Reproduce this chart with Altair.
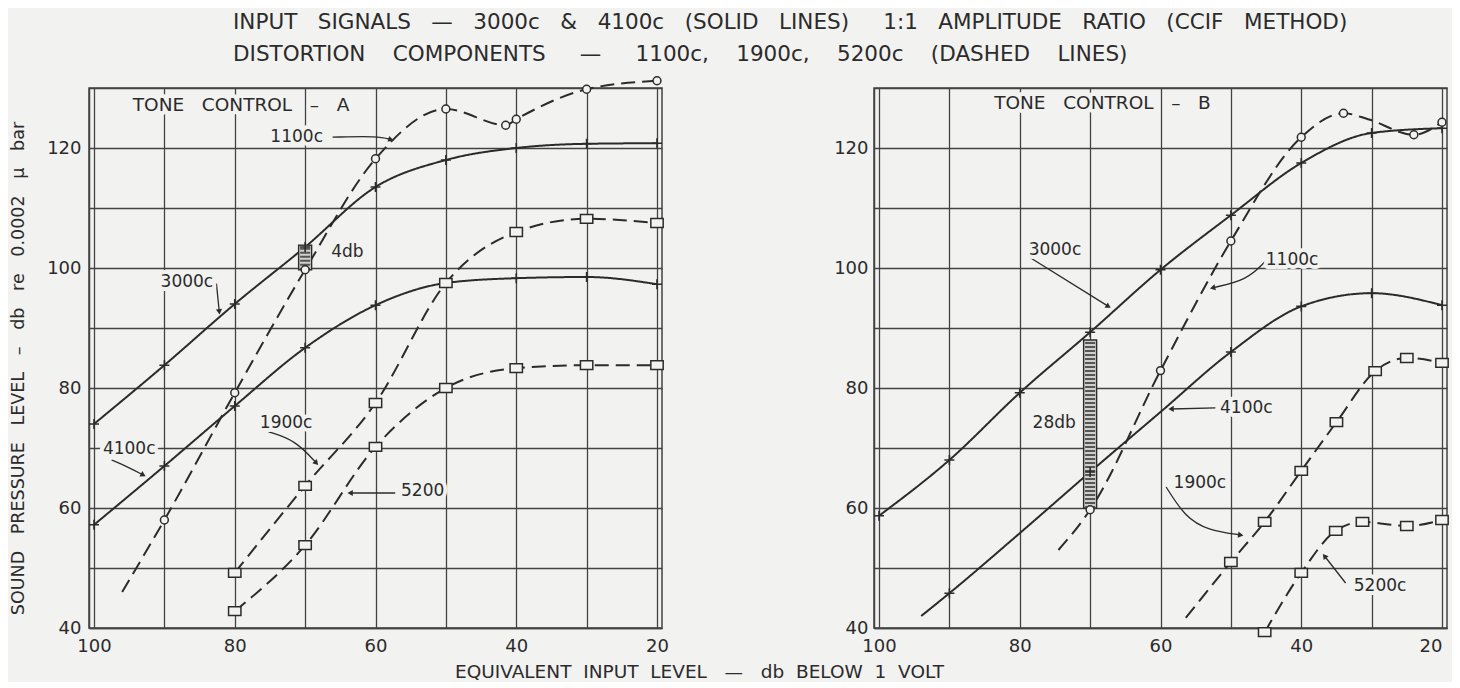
import math
import altair as alt
import pandas as pd

BG = "#f2f2f0"
INK = "#2b2b2b"
GRID = "#434343"
FONT = "DejaVu Sans"
NB = "\u00a0"

# ---------------- data ----------------
# Tone control A
A_X = [100, 90, 80, 70, 60, 50, 40, 30, 20]
A_3000 = [74.0, 83.8, 94.0, 103.5, 113.5, 118.0, 120.0, 120.7, 120.8]
A_4100 = [57.2, 67.0, 77.0, 86.7, 93.8, 97.5, 98.3, 98.5, 97.3]
A_1100_X = [96, 90, 80, 70, 60, 50, 41.5, 40, 30, 20]
A_1100 = [46.0, 58.0, 79.2, 99.7, 118.2, 126.5, 123.8, 124.8, 129.8, 131.2]
A_1100_MARK = [0, 1, 1, 1, 1, 1, 1, 1, 1, 1]
A_1900_X = [80, 70, 60, 50, 40, 30, 20]
A_1900 = [49.2, 63.7, 77.5, 97.5, 106.0, 108.2, 107.5]
A_5200_X = [80, 70, 60, 50, 40, 30, 20]
A_5200 = [42.8, 53.8, 70.2, 80.0, 83.3, 83.8, 83.8]
A_BAR = [70, 99.7, 103.8]

# Tone control B
B_3000_X = [100, 90, 80, 70, 60, 50, 40, 30, 20]
B_3000 = [58.7, 68.0, 79.2, 89.3, 99.7, 108.8, 117.5, 122.5, 123.3]
B_4100_X = [94, 90, 80, 70, 60, 50, 40, 30, 20]
B_4100 = [42.0, 45.8, 55.8, 66.0, 76.0, 86.0, 93.6, 95.8, 93.8]
B_4100_MARK = [0, 1, 0, 1, 0, 1, 1, 1, 1]
B_1100_X = [74.5, 70, 60, 50, 40, 34, 30.5, 24, 20]
B_1100 = [53.0, 59.7, 82.9, 104.5, 121.8, 125.8, 124.8, 122.2, 124.3]
B_1100_MARK = [0, 1, 1, 1, 1, 1, 0, 1, 1]
B_1900_X = [56.4, 50, 45.2, 40, 35, 29.5, 25, 20]
B_1900 = [41.7, 51.0, 57.7, 66.2, 74.3, 82.8, 85.0, 84.2]
B_1900_MARK = [0, 1, 1, 1, 1, 1, 1, 1]
B_5200_X = [45.2, 40, 35.1, 31.3, 25, 20]
B_5200 = [39.3, 49.2, 56.2, 57.7, 57.0, 58.0]
B_BAR = [70, 60.0, 88.0]


def spaced(*words, gap=2):
    return (NB * gap).join(words)


# annotation labels (data coordinates)
A_LABELS = [spaced("TONE", "CONTROL", "–", "A", gap=3), "1100c", "3000c", "4db", "4100c", "1900c", "5200"]
A_LAB_X = [79.1, 71.2, 86.8, 64.0, 95.0, 72.7, 53.3]
A_LAB_Y = [127.2, 121.8, 97.7, 102.7, 69.8, 74.2, 62.8]
A_LAB_SIZE = [18.5, 17, 17, 17, 17, 17, 17]

B_LABELS = [spaced("TONE", "CONTROL", "–", "B", gap=3), "3000c", "1100c", "28db", "4100c", "1900c", "5200c"]
B_LAB_X = [68.25, 75.0, 41.3, 75.1, 47.8, 54.4, 28.8]
B_LAB_Y = [127.5, 103.0, 101.3, 74.2, 76.7, 64.2, 47.0]
B_LAB_SIZE = [18.5, 17, 17, 17, 17, 17, 17]

# leader arrows (data coordinates, tail -> head)
A_ARROWS = [
    [(66.1, 121.8), (59.6, 122.0), (57.8, 121.4)],
    [(82.6, 97.4), (82.4, 95.0), (82.2, 92.7)],
    [(97.5, 68.0), (95.1, 66.8), (93.0, 65.5)],
    [(75.2, 72.7), (71.4, 71.3), (68.4, 67.5)],
    [(57.2, 62.5), (63.6, 62.5)],
]
B_ARROWS = [
    [(78.5, 101.7), (67.4, 93.6)],
    [(45.2, 101.0), (47.7, 98.0), (52.6, 96.7)],
    [(52.2, 76.7), (58.5, 76.5)],
    [(59.2, 63.5), (56.5, 58.5), (53.3, 56.3), (48.6, 55.5)],
    [(33.7, 47.5), (36.7, 52.0)],
]

TITLE_1 = spaced("INPUT", "SIGNALS", "—", "3000c", "&", "4100c", "(SOLID", "LINES)" + NB * 2, "1:1",
                 "AMPLITUDE", "RATIO", "(CCIF", "METHOD)", gap=3)
TITLE_2 = spaced("DISTORTION", "COMPONENTS", NB + "—" + NB, "1100c,", "1900c,", "5200c", "(DASHED", "LINES)",
                 gap=4)
Y_TITLE = spaced("SOUND", "PRESSURE", "LEVEL", "–", "db", "re", "0.0002", "μ", "bar", gap=3)
X_TITLE = spaced("EQUIVALENT", "INPUT", "LEVEL", NB + "—" + NB, "db", "BELOW", "1", "VOLT", gap=2)

X_TICKS = [100, 90, 80, 70, 60, 50, 40, 30, 20]
Y_TICKS = [40, 50, 60, 70, 80, 90, 100, 110, 120, 130]

W, H = 573, 540
PX_X = W / 80.0
PX_Y = H / 90.0
SQUARE = "M-1.4,-1L1.4,-1L1.4,1L-1.4,1Z"
PLUS = "M-1,0L1,0M0,-1L0,1"


def build_frames(series_list, bar, labels, lab_x, lab_y, lab_size, arrows):
    lines, plus, circ, sq = [], [], [], []
    for name, xs, ys, style, shape, marks in series_list:
        marks = marks or [1] * len(xs)
        for x, y, m in zip(xs, ys, marks):
            lines.append(dict(series=name, x=x, y=y, style=style))
            if m:
                {"plus": plus, "circle": circ, "square": sq}[shape].append(dict(x=x, y=y))
    bar_df = pd.DataFrame([dict(x=bar[0], y=bar[1], y2=bar[2])])
    lab_df = pd.DataFrame(dict(x=lab_x, y=lab_y, text=labels, size=lab_size))
    arr, heads = [], []
    for k, pts in enumerate(arrows):
        for i, (x, y) in enumerate(pts):
            arr.append(dict(arrow=k, i=i, x=x, y=y))
        (x0, y0), (x1, y1) = pts[-2], pts[-1]
        dx = -(x1 - x0) * PX_X
        dy = -(y1 - y0) * PX_Y
        ang = math.degrees(math.atan2(dy, dx)) % 360
        heads.append(dict(x=x1, y=y1, angle=ang))
    return (pd.DataFrame(lines), pd.DataFrame(plus), pd.DataFrame(circ), pd.DataFrame(sq),
            bar_df, lab_df, pd.DataFrame(arr), pd.DataFrame(heads))


def make_panel(frames, left):
    lines, plus, circ, sq, bar_df, lab_df, arr_df, head_df = frames
    label_expr_x = "datum.value % 20 == 0 ? datum.label : ''"
    label_expr_y = "datum.value % 20 == 0 && datum.value < 130 ? datum.label : ''"
    if left:
        xaxis = alt.Axis(values=X_TICKS, labelExpr=label_expr_x, labelFlush=False, labelPadding=9,
                         title=X_TITLE, titleX=610, titleY=43, titleAlign="center",
                         titleBaseline="middle", titleFontSize=18.5)
        yaxis = alt.Axis(values=Y_TICKS, labelExpr=label_expr_y, labelPadding=8, title=Y_TITLE,
                         titleX=-71, titleY=280, titleAngle=270, titleAlign="center",
                         titleBaseline="middle", titleFontSize=17.5)
    else:
        xaxis = alt.Axis(values=X_TICKS, labelExpr=label_expr_x, labelFlush=False, labelPadding=9,
                         labelAlign={"condition": {"test": "datum.value == 20", "value": "right"},
                                     "value": "center"},
                         title=None)
        yaxis = alt.Axis(values=Y_TICKS, labelExpr=label_expr_y, labelPadding=6, title=None)
    X = alt.X("x:Q", scale=alt.Scale(domain=[100, 20], nice=False, zero=False), axis=xaxis)
    Y = alt.Y("y:Q", scale=alt.Scale(domain=[40, 130], nice=False, zero=False), axis=yaxis)

    curves = alt.Chart(lines).mark_line(color=INK, strokeWidth=2, interpolate="monotone", clip=False).encode(
        x=X, y=Y, detail="series:N",
        strokeDash=alt.StrokeDash("style:N", scale=alt.Scale(domain=["solid", "dashed"], range=[[1, 0], [14, 7]]),
                                  legend=None))
    bar = alt.Chart(bar_df).mark_bar(width=13, fill="#cfcfcd", stroke=INK, strokeWidth=1.4).encode(
        x=X, y=Y, y2=alt.Y2("y2:Q"))
    hatch = alt.Chart(bar_df).mark_rule(strokeWidth=10, color="#555555", strokeDash=[2, 2]).encode(
        x=X, y=Y, y2=alt.Y2("y2:Q"))
    pluses = alt.Chart(plus).mark_point(shape=PLUS, size=100, filled=False, color=INK, strokeWidth=1.6,
                                        opacity=1, clip=False).encode(x=X, y=Y)
    circles = alt.Chart(circ).mark_point(shape="circle", size=62, filled=True, fill=BG, stroke=INK,
                                         strokeWidth=1.5, opacity=1, clip=False).encode(x=X, y=Y)
    squares = alt.Chart(sq).mark_point(shape=SQUARE, size=78, filled=True, fill=BG, stroke=INK,
                                       strokeWidth=1.5, opacity=1, clip=False).encode(x=X, y=Y)
    arrows = alt.Chart(arr_df).mark_line(color=INK, strokeWidth=1.3, interpolate="basis").encode(
        x=X, y=Y, detail="arrow:N", order=alt.Order("i:Q"))
    heads = alt.Chart(head_df).mark_point(shape="triangle-right", size=38, filled=True, color=INK,
                                          opacity=1).encode(x=X, y=Y, angle=alt.Angle("angle:Q", scale=None))
    halo = alt.Chart(lab_df).mark_text(font=FONT, color=BG, stroke=BG, strokeWidth=8, strokeJoin="round").encode(
        x=X, y=Y, text="text:N", size=alt.Size("size:Q", scale=None, legend=None))
    text = alt.Chart(lab_df).mark_text(font=FONT, color=INK).encode(
        x=X, y=Y, text="text:N", size=alt.Size("size:Q", scale=None, legend=None))
    return alt.layer(curves, bar, hatch, arrows, heads, halo, text, pluses, circles, squares).properties(
        width=W, height=H)


A = build_frames([
    ("3000", A_X, A_3000, "solid", "plus", None),
    ("4100", A_X, A_4100, "solid", "plus", None),
    ("1100", A_1100_X, A_1100, "dashed", "circle", A_1100_MARK),
    ("1900", A_1900_X, A_1900, "dashed", "square", None),
    ("5200", A_5200_X, A_5200, "dashed", "square", None),
], A_BAR, A_LABELS, A_LAB_X, A_LAB_Y, A_LAB_SIZE, A_ARROWS)

B = build_frames([
    ("3000", B_3000_X, B_3000, "solid", "plus", None),
    ("4100", B_4100_X, B_4100, "solid", "plus", B_4100_MARK),
    ("1100", B_1100_X, B_1100, "dashed", "circle", B_1100_MARK),
    ("1900", B_1900_X, B_1900, "dashed", "square", B_1900_MARK),
    ("5200", B_5200_X, B_5200, "dashed", "square", None),
], B_BAR, B_LABELS, B_LAB_X, B_LAB_Y, B_LAB_SIZE, B_ARROWS)

chart = alt.hconcat(make_panel(A, True), make_panel(B, False), spacing=212, bounds="flush").properties(
    title=alt.TitleParams(text=[TITLE_1, TITLE_2], anchor="start", frame="group", dx=144,
                          fontSize=21.5, font=FONT, color=INK, fontWeight="normal", lineHeight=32, offset=8),
    padding={"left": 0, "top": 3, "right": 0, "bottom": 0},
    background=BG,
).configure_view(stroke=GRID, strokeWidth=1.5).configure_axis(
    grid=True, gridColor=GRID, gridWidth=1.3, gridOpacity=1, domainColor=GRID, domainWidth=1.5,
    ticks=False, labelFont=FONT, labelFontSize=18, labelColor=INK, titleFont=FONT, titleColor=INK,
    titleFontWeight="normal")

chart.save("out.html", embed_options={"renderer": "svg", "actions": False})
